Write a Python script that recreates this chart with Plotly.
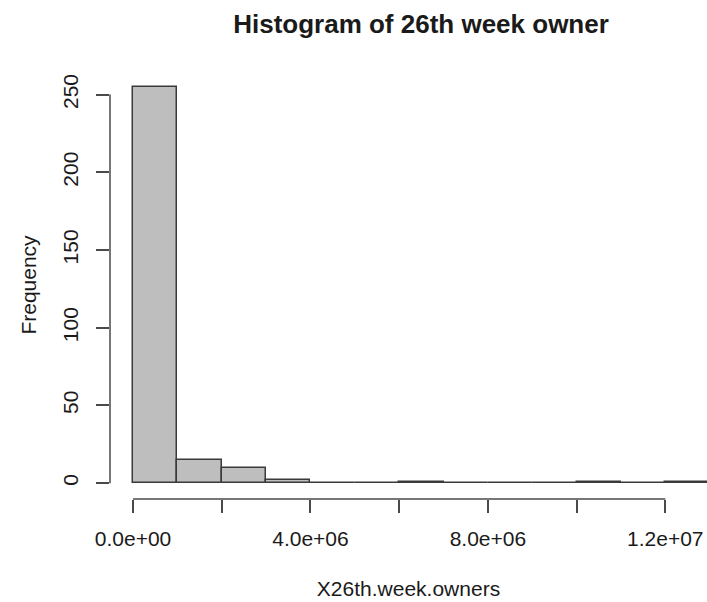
import plotly.graph_objects as go

# Histogram bins (left edges, width) and counts
bin_width = 1_000_000
bin_lefts = [i * bin_width for i in range(13)]
counts = [255, 15, 10, 2, 0, 0, 1, 0, 0, 0, 1, 0, 1]

x_tickvals = [0, 2e6, 4e6, 6e6, 8e6, 1e7, 1.2e7]
x_ticktext = ["0.0e+00", "", "4.0e+06", "", "8.0e+06", "", "1.2e+07"]
y_tickvals = [0, 50, 100, 150, 200, 250]
y_ticktext = ["0", "50", "100", "150", "200", "250"]

FONT = "Liberation Sans, Arial, Helvetica, sans-serif"
INK = "#1a1a1a"
AXIS = "#4a4a4a"

centers = [b + bin_width / 2 for b in bin_lefts]

fig = go.Figure(
    go.Bar(
        x=centers,
        y=counts,
        width=[bin_width] * len(counts),
        marker=dict(color="#BEBEBE", line=dict(color="#3a3a3a", width=1.5)),
        hoverinfo="x+y",
    )
)

# R-style detached axis lines spanning only the tick range
fig.add_shape(type="line", xref="x", yref="paper",
              x0=x_tickvals[0], x1=x_tickvals[-1], y0=0, y1=0,
              line=dict(color=AXIS, width=1.5))
fig.add_shape(type="line", xref="paper", yref="y",
              x0=0, x1=0, y0=y_tickvals[0], y1=y_tickvals[-1],
              line=dict(color=AXIS, width=1.5))

fig.update_layout(
    width=707,
    height=602,
    margin=dict(l=110, r=0, t=71, b=103),
    paper_bgcolor="white",
    plot_bgcolor="white",
    showlegend=False,
    bargap=0,
    font=dict(family=FONT, size=21, color=INK),
    title=dict(
        text="<b>Histogram of 26th week owner</b>",
        font=dict(family=FONT, size=26, color=INK),
        x=421 / 707, xanchor="center",
        y=1 - 24 / 602, yanchor="middle",
    ),
    xaxis=dict(
        range=[-5.2e5, 1.294e7],
        showgrid=False, zeroline=False, showline=False,
        ticks="outside", ticklen=13, tickwidth=1.5, tickcolor=AXIS,
        tickvals=x_tickvals, ticktext=x_ticktext,
        ticklabelstandoff=8,
        tickfont=dict(family=FONT, size=21, color=INK),
        title=dict(text="X26th.week.owners", standoff=32,
                   font=dict(family=FONT, size=21, color=INK)),
    ),
    yaxis=dict(
        range=[-10.2, 265.2],
        showgrid=False, zeroline=False, showline=False,
        ticks="outside", ticklen=13, tickwidth=1.5, tickcolor=AXIS,
        tickvals=y_tickvals, ticktext=y_ticktext, tickangle=-90,
        ticklabelstandoff=10,
        tickfont=dict(family=FONT, size=21, color=INK),
        title=dict(text="Frequency", standoff=16,
                   font=dict(family=FONT, size=21, color=INK)),
    ),
)

fig.write_html("out.html")
